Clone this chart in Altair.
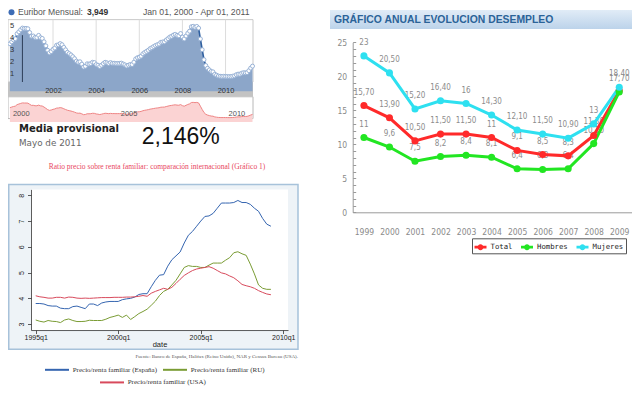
import altair as alt
import pandas as pd

# ---------------- data ----------------
# Euribor 12m, monthly, Jan 2000 - Apr 2011
eur_values = [
    3.949, 4.107, 4.266, 4.362, 4.774, 4.937, 5.112, 5.248, 5.217, 5.219, 5.191, 4.878,
    4.574, 4.591, 4.469, 4.471, 4.642, 4.450, 4.389, 4.109, 3.772, 3.407, 3.198, 3.298,
    3.483, 3.594, 3.819, 3.856, 3.958, 3.866, 3.645, 3.440, 3.236, 3.126, 3.017, 2.872,
    2.705, 2.504, 2.411, 2.447, 2.252, 2.014, 2.075, 2.279, 2.258, 2.298, 2.406, 2.381,
    2.216, 2.163, 2.055, 2.163, 2.297, 2.404, 2.361, 2.302, 2.377, 2.316, 2.328, 2.301,
    2.312, 2.310, 2.335, 2.265, 2.193, 2.103, 2.168, 2.223, 2.220, 2.414, 2.684, 2.783,
    2.833, 2.914, 3.105, 3.221, 3.308, 3.401, 3.539, 3.615, 3.715, 3.799, 3.864, 3.921,
    4.064, 4.094, 4.106, 4.253, 4.373, 4.505, 4.564, 4.666, 4.725, 4.647, 4.607, 4.793,
    4.498, 4.349, 4.590, 4.820, 4.994, 5.361, 5.393, 5.323, 5.384, 5.248, 4.350, 3.452,
    2.622, 2.135, 1.909, 1.771, 1.644, 1.610, 1.412, 1.334, 1.261, 1.243, 1.231, 1.242,
    1.232, 1.225, 1.215, 1.225, 1.249, 1.281, 1.373, 1.421, 1.420, 1.495, 1.541, 1.526,
    1.550, 1.714, 1.924, 2.086,
]
eur_start = 2000
eur_grid_years = [2002, 2004, 2006, 2008, 2010]
eur_y_ticks = [1, 2, 3, 4, 5]
nav_years = [2000, 2005, 2010]
eur_cursor = [2000.58]

# Price / family income ratio, quarterly from 1995q1
ratio_start = 1995.0
ratio_spain = [3.80, 3.80, 3.78, 3.72, 3.70, 3.70, 3.62, 3.60, 3.60, 3.68, 3.70, 3.65,
               3.60, 3.78, 3.78, 3.72, 3.82, 3.86, 3.88, 3.88, 3.88, 3.95, 3.98, 4.00,
               4.05, 4.15, 4.18, 4.18, 4.45, 4.70, 4.90, 4.92, 5.25, 5.50, 5.65, 5.80,
               6.15, 6.45, 6.60, 6.80, 7.00, 7.18, 7.20, 7.30, 7.50, 7.70, 7.70, 7.70,
               7.72, 7.80, 7.72, 7.72, 7.65, 7.50, 7.38, 7.10, 6.88, 6.80]
ratio_ru = [3.16, 3.11, 3.08, 3.14, 3.11, 3.10, 3.06, 3.16, 3.20, 3.14, 3.10, 3.10,
            3.11, 3.15, 3.14, 3.14, 3.14, 3.19, 3.26, 3.30, 3.35, 3.26, 3.35, 3.18,
            3.29, 3.41, 3.49, 3.58, 3.73, 3.89, 4.11, 4.27, 4.35, 4.52, 4.70, 4.95,
            5.20, 5.27, 5.24, 5.24, 5.20, 5.20, 5.29, 5.37, 5.37, 5.37, 5.48, 5.58,
            5.77, 5.81, 5.73, 5.67, 5.33, 4.95, 4.52, 4.39, 4.35, 4.35]
ratio_usa = [4.10, 4.06, 4.04, 4.01, 4.01, 4.04, 4.04, 4.01, 4.05, 4.04, 4.01, 4.00,
             4.01, 4.00, 4.01, 4.02, 4.03, 4.03, 4.03, 4.04, 4.04, 4.04, 4.05, 4.05,
             4.06, 4.08, 4.11, 4.08, 4.20, 4.27, 4.33, 4.39, 4.35, 4.43, 4.58, 4.74,
             4.89, 4.99, 5.08, 5.14, 5.17, 5.20, 5.23, 5.17, 5.08, 4.99, 4.95, 4.87,
             4.80, 4.68, 4.54, 4.49, 4.45, 4.39, 4.30, 4.23, 4.17, 4.14]
ratio_names = ["Precio/renta familiar (España)", "Precio/renta familiar (RU)",
               "Precio/renta familiar (USA)"]
ratio_x_ticks = [1995, 2000, 2005, 2010]
ratio_y_ticks = [3, 4, 5, 6, 7, 8]

# Unemployment (Spain)
years = list(range(1999, 2010))
series_names = ["Total", "Hombres", "Mujeres"]
total = [15.7, 13.9, 10.5, 11.5, 11.5, 11.0, 9.1, 8.5, 8.3, 11.3, 17.9]
total_lbl = ["15,70", "13,90", "10,50", "11,50", "11,50", "11", "9,1", "8,5", "8,3", "11,30", ""]
hombres = [11.0, 9.6, 7.5, 8.2, 8.4, 8.1, 6.4, 6.3, 6.4, 10.1, 17.7]
hombres_lbl = ["11", "9,6", "7,5", "8,2", "8,4", "8,1", "6,4", "6,3", "6,4", "10,10", "17,70"]
mujeres = [23.0, 20.5, 15.2, 16.4, 16.0, 14.3, 12.1, 11.5, 10.9, 13.0, 18.4]
mujeres_lbl = ["23", "20,50", "15,20", "16,40", "16", "14,30", "12,10", "11,50", "10,90", "13", "18,40"]

# ---------------- layout helpers ----------------
W, H = 624, 378
SANS = "Liberation Sans, Arial, sans-serif"
SERIF = "Liberation Serif, Times New Roman, serif"
NARROW = "Liberation Sans Narrow, Arial Narrow, DejaVu Sans Condensed, sans-serif"
MONO = "DejaVu Sans Mono, monospace"
DEJA = "DejaVu Sans, Verdana, sans-serif"


def L(rx):
    return rx - 3


def LY(ry):
    return round((ry - 1) * 0.97, 2)


def R(rx):
    return rx - 8


def RY(ry):
    return ry - 3


def sc(domain, rng):
    return alt.Scale(domain=domain, range=rng, nice=False, zero=False)


def box(x0, x1, y0, y1, **kw):
    return alt.Chart(pd.DataFrame({"k": [0]})).mark_rect(**kw).encode(
        x=alt.value(x0), x2=alt.value(x1), y=alt.value(y0), y2=alt.value(y1))


def label(s, x, y, **kw):
    return alt.Chart(pd.DataFrame({"s": [s]})).mark_text(**kw).encode(
        x=alt.value(x), y=alt.value(y), text="s:N")


layers = []

# ---------------- Euribor panel ----------------
eur_df = pd.DataFrame({"t": [eur_start + i / 12 for i in range(len(eur_values))], "v": eur_values})
eur_x = sc([2000, 2011.25], [L(4.9), L(247.5)])
eur_y = sc([0.71, 5.95], [LY(78), LY(13)])

layers.append(box(L(3), L(248), LY(77.3), LY(92), fill="#c3c3c3"))
layers.append(box(L(3), L(248), LY(13), LY(77.3), fill="white", stroke="#c9c9c9", strokeWidth=1))
layers.append(
    alt.Chart(pd.DataFrame({"yr": eur_grid_years})).mark_rule(color="#dcdcdc", strokeWidth=1).encode(
        x=alt.X("yr:Q", scale=eur_x, axis=alt.Axis(
            orient="bottom", offset=LY(77.3) - H, values=eur_grid_years, format="d",
            domain=False, ticks=False, grid=False, labelPadding=4.3, labelFont=SANS,
            labelFontSize=7.5, labelColor="#333", labelFlush=False, title=None, zindex=1)),
        y=alt.value(LY(13)), y2=alt.value(LY(77.3)))
)
layers.append(
    alt.Chart(eur_df).mark_area(color="#8ca6c9", opacity=1).encode(
        x=alt.X("t:Q", scale=eur_x, axis=None),
        y=alt.Y("v:Q", scale=eur_y, axis=alt.Axis(
            orient="left", offset=0, values=eur_y_ticks, domain=False, ticks=False, grid=False,
            labelAlign="left", labelBaseline="bottom", labelPadding=-1.5, labelOffset=-1.5,
            labelFont=SANS, labelFontSize=7.5, labelColor="#333", title=None, zindex=1)),
        y2=alt.value(LY(77.3)))
)
layers.append(
    alt.Chart(eur_df).mark_line(color="#2f5f9f", strokeWidth=1.6).encode(
        x=alt.X("t:Q", scale=eur_x, axis=None), y=alt.Y("v:Q", scale=eur_y, axis=None))
)
layers.append(
    alt.Chart(eur_df).mark_point(shape="circle", filled=True, fill="white", stroke="#98b2d6",
                                 strokeWidth=1, size=16, opacity=1).encode(
        x=alt.X("t:Q", scale=eur_x, axis=None), y=alt.Y("v:Q", scale=eur_y, axis=None))
)
layers.append(
    alt.Chart(pd.DataFrame({"t": eur_cursor})).mark_rule(color="#2d3e58", strokeWidth=1).encode(
        x=alt.X("t:Q", scale=eur_x, axis=None), y=alt.value(LY(29)), y2=alt.value(LY(77.3)))
)
# header
layers.append(
    alt.Chart(pd.DataFrame({"k": [0]})).mark_point(shape="circle", filled=True, color="#3d6cb5",
                                                   size=36, opacity=1).encode(
        x=alt.value(L(6.5)), y=alt.value(LY(5.5)))
)
layers.append(label("Euribor Mensual:", L(13), LY(5.5), align="left", baseline="middle",
                    font=SANS, fontSize=8.6, color="#555"))
layers.append(label("3,949", L(82), LY(5.5), align="left", baseline="middle",
                    font=SANS, fontSize=8.5, fontWeight="bold", color="#333"))
layers.append(label("Jan 01, 2000 - Apr 01, 2011", L(244.5), LY(5.5), align="right",
                    baseline="middle", font=SANS, fontSize=8.7, color="#555"))

# navigator
nav_y = sc([0.95, 7.07], [LY(115), LY(92)])
layers.append(box(L(3), L(248), LY(92.5), LY(115), fill="white", stroke="#b8b8b8", strokeWidth=1))
layers.append(
    alt.Chart(eur_df).mark_area(color="#fbd3d3", opacity=1).encode(
        x=alt.X("t:Q", scale=eur_x, axis=alt.Axis(
            orient="bottom", offset=LY(115) - H, values=nav_years, format="d", domain=False,
            ticks=False, grid=False, labelAlign="left", labelBaseline="bottom", labelPadding=-1,
            labelOffset=2.5, labelFont=SANS, labelFontSize=7.5, labelColor="#555",
            labelFlush=False, title=None, zindex=1)),
        y=alt.Y("v:Q", scale=nav_y, axis=None),
        y2=alt.value(LY(115)))
)
layers.append(
    alt.Chart(eur_df).mark_line(color="#ef8585", strokeWidth=1).encode(
        x=alt.X("t:Q", scale=eur_x, axis=None), y=alt.Y("v:Q", scale=nav_y, axis=None))
)

# provisional average
layers.append(label("Media provisional", L(14), LY(125.5), align="left", baseline="middle",
                    font=DEJA, fontSize=10, fontWeight="bold", color="#222"))
layers.append(label("Mayo de 2011", L(14), LY(140.5), align="left", baseline="middle",
                    font=DEJA, fontSize=8.8, color="#666"))
layers.append(label("2,146%", L(136.7), LY(141), align="left", baseline="alphabetic",
                    font=SANS, fontSize=23, color="#111"))

# ---------------- Ratio panel ----------------
layers.append(label("Ratio precio sobre renta familiar: comparación internacional (Gráfico 1)",
                    L(152), LY(164.5), align="center", baseline="middle", font=SERIF,
                    fontSize=7.5, color="#e8465e"))
layers.append(box(0.75, L(293), LY(183), LY(352.7), fill="#eef3f7", stroke="#a7c2da",
                  strokeWidth=1.5))
layers.append(box(L(26), L(283), LY(188), LY(333), fill="white"))

rat_x = sc([1994.715, 2010.285], [L(26), L(283)])
rat_y = sc([2.77, 8.23], [LY(333), LY(188)])
n = len(ratio_spain)
tq = [ratio_start + i / 4 for i in range(n)]
rat_a = pd.DataFrame({
    "t": tq + tq,
    "v": ratio_spain + ratio_ru,
    "s": [ratio_names[0]] * n + [ratio_names[1]] * n,
})
rat_b = pd.DataFrame({"t": tq, "v": ratio_usa, "s": [ratio_names[2]] * n})

layers.append(
    alt.Chart(rat_a).mark_line(strokeWidth=1).encode(
        x=alt.X("t:Q", scale=rat_x, axis=alt.Axis(
            orient="bottom", offset=LY(333) - H, values=ratio_x_ticks,
            labelExpr="datum.value + 'q1'", tickSize=3.5, tickColor="#333", domainColor="#333",
            domainWidth=0.8, tickWidth=0.8, labelPadding=0, labelFont=SANS, labelFontSize=7,
            labelColor="#222", labelFlush=False, grid=False, title="date", titleFont=SANS,
            titleFontSize=7.5, titleFontWeight="normal", titleColor="#222", titlePadding=0,
            zindex=1)),
        y=alt.Y("v:Q", scale=rat_y, axis=alt.Axis(
            orient="left", offset=-L(26), values=ratio_y_ticks, tickSize=3.5, tickColor="#333",
            domainColor="#333", domainWidth=0.8, tickWidth=0.8, labelAngle=270,
            labelAlign="center", labelBaseline="middle", labelPadding=5.8, labelFont=SANS,
            labelFontSize=7, labelColor="#222", grid=False, title=None, zindex=1)),
        color=alt.Color("s:N", scale=alt.Scale(domain=ratio_names[:2], range=["#3565b0", "#7a9c34"]),
                        legend=alt.Legend(
                            orient="none", legendX=L(40) - 1, legendY=LY(374) - 13,
                            direction="horizontal", title=None, symbolType="stroke",
                            symbolSize=576, symbolStrokeWidth=2, labelFont=SERIF,
                            labelFontSize=7, labelColor="#333", labelOffset=2.7,
                            columnPadding=1, padding=0)),
    )
)
layers.append(
    alt.Chart(rat_b).mark_line(strokeWidth=1).encode(
        x=alt.X("t:Q", scale=rat_x, axis=None),
        y=alt.Y("v:Q", scale=rat_y, axis=None),
        color=alt.Color("s:N", scale=alt.Scale(domain=ratio_names[2:], range=["#d84a5c"]),
                        legend=alt.Legend(
                            orient="none", legendX=L(95) - 1, legendY=LY(387) - 13,
                            direction="horizontal", title=None, symbolType="stroke",
                            symbolSize=576, symbolStrokeWidth=2, labelFont=SERIF,
                            labelFontSize=7, labelColor="#333", labelOffset=2.7, padding=0)),
    )
)
layers.append(label("Fuente: Banco de España, Halifax (Reino Unido), NAR y Census Bureau (USA).",
                    L(293), LY(360), align="right", baseline="middle", font=SERIF, fontSize=5,
                    color="#555"))

# ---------------- Unemployment panel ----------------
grad = alt.LinearGradient(gradient="linear",
                          stops=[alt.GradientStop(color="#e1ecf7", offset=0),
                                 alt.GradientStop(color="#bcd3ea", offset=1)],
                          x1=0, x2=0, y1=0, y2=1)
layers.append(box(R(330), R(632), RY(5), RY(24), fill=grad))
layers.append(label("GRÁFICO ANUAL EVOLUCION DESEMPLEO", R(334), RY(14.5), align="left",
                    baseline="middle", font=SANS, fontSize=10.4, fontWeight="bold",
                    color="#2b6398"))

un_x = sc([1998.56, 2009.5], [R(352.7), R(632)])
un_y = sc([0, 25], [RY(207.3), RY(37.3)])
un_df = pd.DataFrame({
    "year": years * 3,
    "v": total + hombres + mujeres,
    "s": ["Total"] * 11 + ["Hombres"] * 11 + ["Mujeres"] * 11,
    "lbl": total_lbl + hombres_lbl + mujeres_lbl,
})
un_colors = ["#ff2a2a", "#22e622", "#2ee0f0"]

layers.append(
    alt.Chart(un_df).mark_text(dy=-13, font=NARROW, fontSize=8, color="#8c8c8c").encode(
        x=alt.X("year:Q", scale=un_x, axis=None),
        y=alt.Y("v:Q", scale=un_y, axis=None),
        text="lbl:N")
)
layers.append(
    alt.Chart(un_df).mark_line(strokeWidth=3).encode(
        x=alt.X("year:Q", scale=un_x, axis=alt.Axis(
            orient="bottom", offset=RY(207.3) - H, values=years, format="d", ticks=False,
            domainColor="#9a9a9a", labelPadding=15, labelFont=NARROW, labelFontSize=8.5,
            labelColor="#8a8a8a", labelFlush=False, grid=False, title=None, zindex=1)),
        y=alt.Y("v:Q", scale=un_y, axis=alt.Axis(
            orient="right", offset=R(352.7) - W, values=list(range(26)),
            labelExpr="datum.value % 5 == 0 ? datum.label : ''", tickSize=3,
            tickColor="#9a9a9a", domainColor="#9a9a9a", labelAlign="right", labelPadding=-9,
            labelBaseline="middle", labelFont=NARROW, labelFontSize=8.5, labelColor="#8a8a8a",
            grid=False, title=None, zindex=1)),
        color=alt.Color("s:N", scale=alt.Scale(domain=series_names, range=un_colors), legend=None),
    )
)
SYM = ("M-1,-0.22L1,-0.22L1,0.22L-1,0.22Z "
       "M0.5,0A0.5,0.5 0 1,1 -0.5,0A0.5,0.5 0 1,1 0.5,0Z")
layers.append(
    alt.Chart(un_df).mark_point(shape="circle", filled=True, size=50, opacity=1).encode(
        x=alt.X("year:Q", scale=un_x, axis=None),
        y=alt.Y("v:Q", scale=un_y, axis=None),
        fill=alt.Fill("s:N", scale=alt.Scale(domain=series_names, range=un_colors),
                      legend=alt.Legend(
                          orient="none", legendX=R(472), legendY=RY(233.3),
                          direction="horizontal", title=None, symbolType=SYM, symbolSize=144,
                          symbolStrokeWidth=0, labelFont=MONO, labelFontSize=7.3,
                          labelColor="#222", labelOffset=4, columnPadding=8.5, padding=2.5,
                          strokeColor="#555", fillColor="white")),
    )
)

chart = (
    alt.layer(*layers)
    .resolve_scale(x="independent", y="independent", color="independent", fill="independent")
    .resolve_axis(x="independent", y="independent")
    .resolve_legend(color="independent", fill="independent")
    .properties(width=W, height=H, padding=0, background="white",
                autosize=alt.AutoSizeParams(type="none"))
    .configure_view(strokeWidth=0)
)

chart.save("out.html", embed_options={"renderer": "svg", "actions": False})
